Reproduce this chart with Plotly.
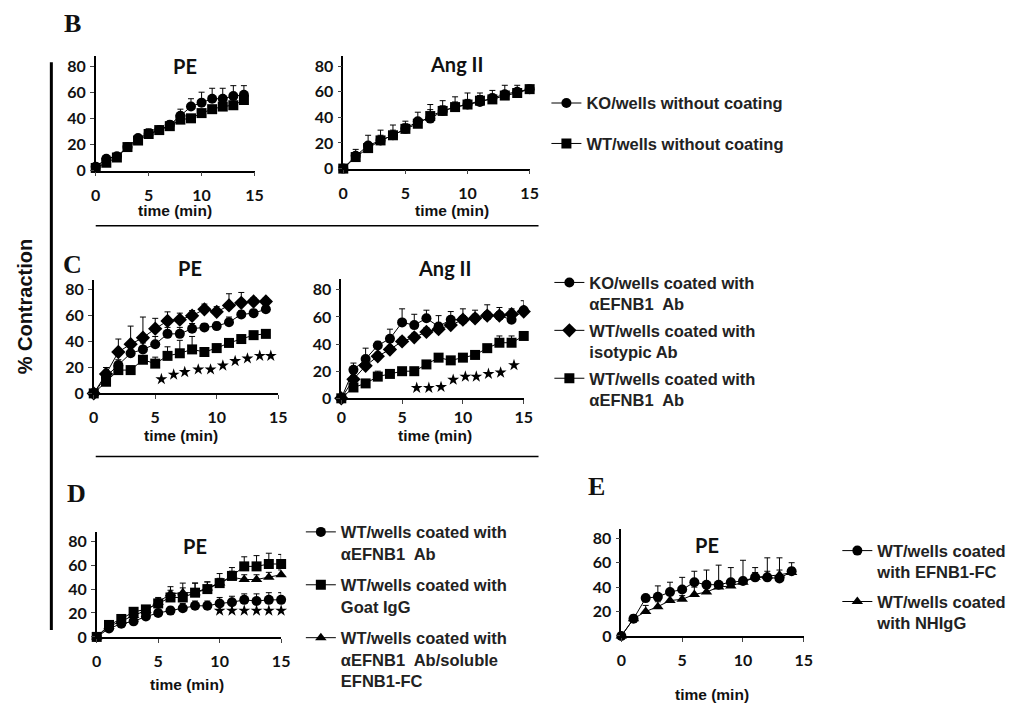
import plotly.graph_objects as go

# ---------------- data ----------------
t14 = list(range(15))
t15 = list(range(16))

B_PE_KO = [3, 9, 11, 18, 25, 28, 31, 35, 42, 49, 52, 55, 55, 57, 58]
B_PE_KO_err = [0, 1, 1, 1, 2, 4, 2, 3, 5, 6, 8, 8, 8, 8, 7]
B_PE_WT = [2, 6, 10, 18, 23, 28, 31, 34, 39, 40, 44, 47, 49, 50, 54]
B_PE_WT_err = [0, 1, 1, 1, 2, 2, 2, 2, 3, 2, 2, 2, 3, 3, 3]

B_ANG_KO = [0, 10, 18, 22, 26, 31, 37, 39, 45, 48, 50, 52, 55, 58, 60, 62]
B_ANG_KO_err = [0, 5, 8, 8, 8, 6, 7, 11, 8, 8, 9, 7, 6, 7, 5, 3]
B_ANG_WT = [0, 9, 16, 22, 26, 31, 35, 41, 45, 48, 50, 53, 54, 57, 59, 62]
B_ANG_WT_err = [0, 3, 4, 4, 4, 4, 4, 5, 4, 4, 4, 4, 4, 3, 3, 2]

C_PE_KO = [0, 13, 22, 31, 34, 38, 46, 46, 50, 51, 52, 55, 61, 62, 65]
C_PE_KO_err = [0, 3, 4, 5, 5, 6, 5, 5, 4, 3, 3, 4, 3, 3, 3]
C_PE_ISO = [0, 15, 32, 38, 43, 50, 56, 57, 60, 65, 63, 68, 70, 71, 71]
C_PE_ISO_err = [0, 5, 10, 14, 16, 8, 7, 5, 4, 4, 4, 9, 8, 3, 3]
C_PE_AB = [0, 9, 18, 18, 26, 23, 29, 31, 34, 32, 35, 39, 42, 45, 46]
C_PE_AB_err = [0, 2, 3, 3, 3, 5, 7, 10, 10, 3, 3, 3, 3, 2, 2]
C_PE_star_x = [5.5, 6.5, 7.4, 8.5, 9.5, 10.5, 11.5, 12.5, 13.5, 14.4]
C_PE_star_y = [11, 14.5, 16.5, 18.5, 18.5, 21.5, 25, 27, 29, 29]

C_ANG_KO = [0, 21, 29, 39, 44, 56, 54, 59, 53, 58, 58, 59, 61, 61, 58, 65]
C_ANG_KO_err = [0, 5, 8, 3, 7, 10, 8, 6, 8, 6, 8, 6, 8, 6, 8, 7]
C_ANG_ISO = [0, 14, 24, 31, 36, 42, 45, 49, 51, 54, 58, 59, 61, 61, 62, 64]
C_ANG_ISO_err = [0, 3, 4, 3, 3, 3, 3, 3, 4, 4, 3, 3, 3, 3, 3, 3]
C_ANG_AB = [0, 8, 11, 16, 18, 20, 20, 25, 30, 28, 30, 32, 37, 41, 41, 46]
C_ANG_AB_err = [0, 2, 2, 4, 2, 2, 2, 2, 2, 2, 2, 2, 2, 5, 5, 2]
C_ANG_star_x = [6.2, 7.2, 8.2, 9.2, 10.2, 11.1, 12.1, 13.1, 14.2, 15.3]
C_ANG_star_y = [7.7, 7.7, 8.4, 13.7, 16, 16, 18, 19, 24.5, 27]

D_AB = [0, 7, 11, 13, 17, 20, 22, 24, 26, 26, 28, 29, 31, 30, 31, 31]
D_AB_err = [0, 2, 2, 2, 3, 3, 3, 4, 4, 4, 5, 5, 5, 6, 6, 6]
D_IGG = [0, 10, 15, 21, 23, 28, 33, 33, 37, 40, 45, 51, 59, 59, 61, 61]
D_IGG_err = [0, 2, 2, 2, 3, 4, 6, 8, 8, 6, 8, 7, 8, 9, 9, 8]
D_SOL = [0, 9, 13, 18, 22, 29, 36, 37, 37, 41, 45, 50, 48, 48, 50, 52]
D_SOL_err = [0, 2, 2, 2, 3, 4, 6, 8, 8, 5, 4, 5, 4, 4, 4, 4]
D_star_x = [10, 11, 12, 13, 14, 15]
D_star_y = [22, 22, 22, 22, 22, 22]

E_FC = [0, 14, 31, 32, 36, 38, 44, 42, 42, 44, 45, 48, 48, 47, 53]
E_FC_err = [0, 3, 2, 9, 8, 10, 9, 12, 16, 12, 17, 8, 16, 17, 7]
E_NH = [0, 14, 20, 24, 29, 30, 34, 36, 40, 41, 44, 48, 49, 50, 52]
E_NH_err = [0, 3, 5, 4, 4, 3, 6, 6, 4, 4, 4, 4, 4, 4, 4]

y_ticks = [0, 20, 40, 60, 80]
x_ticks = [0, 5, 10, 15]

NB = "\u00a0"
L_B = ["KO/wells without coating", "WT/wells without coating"]
L_C = ["KO/wells coated with<br>αEFNB1" + NB + " Ab",
       "WT/wells coated with<br>isotypic Ab",
       "WT/wells coated with<br>αEFNB1" + NB + " Ab"]
L_D = ["WT/wells coated with<br>αEFNB1" + NB + " Ab",
       "WT/wells coated with<br>Goat IgG",
       "WT/wells coated with<br>αEFNB1" + NB + " Ab/soluble<br>EFNB1-FC"]
L_E = ["WT/wells coated<br>with EFNB1-FC", "WT/wells coated<br>with NHIgG"]

# ---------------- layout helpers ----------------
W, H = 1013, 709
YMAX = 88


def xdom(a, b):
    return [a / W, b / W]


def ydom(y0px, y80px):
    top = y0px - (y0px - y80px) * YMAX / 80
    return [1 - y0px / H, 1 - top / H]


panels = {
    # name: (x0px, x15px, y0px, y80px, x tick-label standoff)
    "1": (92, 253, 172, 66, 5),
    "2": (343, 532, 170, 66, 5),
    "3": (90, 277, 398, 293, 5),
    "4": (341, 526, 403, 293, 0),
    "5": (93, 280, 645, 548, 5),
    "6": (625, 810, 644, 545, 5),
}

fig = go.Figure()

MS = {"circle": 10, "square": 10, "diamond": 11, "triangle-up": 10}


def add(x, y, err, sym, ax, name=None, legend=None, rank=None):
    sfx = "" if ax == "1" else ax
    fig.add_trace(go.Scatter(
        x=x, y=y, mode="lines+markers",
        line=dict(color="black", width=1),
        marker=dict(symbol=sym, size=MS[sym], color="black"),
        error_y=dict(type="data", array=err, arrayminus=[0] * len(err),
                     symmetric=False, color="black", thickness=1, width=3),
        xaxis="x" + sfx, yaxis="y" + sfx,
        name=name if name else "",
        showlegend=name is not None,
        legend=legend if legend else "legend",
        legendgroup="g%s" % rank if rank else None,
        legendrank=rank if rank else 1000,
        cliponaxis=False,
    ))


def stars(x, y, ax):
    sfx = "" if ax == "1" else ax
    fig.add_trace(go.Scatter(
        x=x, y=y, mode="markers",
        marker=dict(symbol="star", size=9, color="black"),
        xaxis="x" + sfx, yaxis="y" + sfx, showlegend=False, cliponaxis=False,
    ))


# B
add(t14, B_PE_WT, B_PE_WT_err, "square", "1")
add(t14, B_PE_KO, B_PE_KO_err, "circle", "1")
add(t15, B_ANG_WT, B_ANG_WT_err, "square", "2", L_B[1], "legend", 2)
add(t15, B_ANG_KO, B_ANG_KO_err, "circle", "2", L_B[0], "legend", 1)
# C
add(t14, C_PE_AB, C_PE_AB_err, "square", "3")
add(t14, C_PE_KO, C_PE_KO_err, "circle", "3")
add(t14, C_PE_ISO, C_PE_ISO_err, "diamond", "3")
stars(C_PE_star_x, C_PE_star_y, "3")
add(t15, C_ANG_AB, C_ANG_AB_err, "square", "4", L_C[2], "legend2", 3)
add(t15, C_ANG_ISO, C_ANG_ISO_err, "diamond", "4", L_C[1], "legend2", 2)
add(t15, C_ANG_KO, C_ANG_KO_err, "circle", "4", L_C[0], "legend2", 1)
stars(C_ANG_star_x, C_ANG_star_y, "4")
# D
add(t15, D_AB, D_AB_err, "circle", "5", L_D[0], "legend3", 1)
add(t15, D_SOL, D_SOL_err, "triangle-up", "5", L_D[2], "legend3", 3)
add(t15, D_IGG, D_IGG_err, "square", "5", L_D[1], "legend3", 2)
stars(D_star_x, D_star_y, "5")
# E
add(t14, E_NH, E_NH_err, "triangle-up", "6", L_E[1], "legend4", 2)
add(t14, E_FC, E_FC_err, "circle", "6", L_E[0], "legend4", 1)

tickfont = dict(family="Lato", size=16, color="#111", weight="bold")
layout = dict(
    width=W, height=H, margin=dict(l=0, r=0, t=0, b=0),
    paper_bgcolor="white", plot_bgcolor="white", showlegend=True,
)
for k, (x0, x15, y0, y80, so) in panels.items():
    sfx = "" if k == "1" else k
    layout["xaxis" + sfx] = dict(
        domain=xdom(x0, x15), range=[0, 15], anchor="y" + sfx,
        tickvals=x_ticks, ticks="outside", ticklen=4, tickwidth=1.3,
        showline=True, linecolor="black", linewidth=1.5, ticklabelstandoff=so,
        showgrid=False, zeroline=False, tickfont=tickfont, fixedrange=True,
    )
    layout["yaxis" + sfx] = dict(
        domain=ydom(y0, y80), range=[0, YMAX], anchor="x" + sfx,
        tickvals=y_ticks, ticks="outside", ticklen=4, tickwidth=1.3,
        showline=True, linecolor="black", linewidth=1.5, ticklabelstandoff=1,
        showgrid=False, zeroline=False, tickfont=tickfont, fixedrange=True,
    )

legfont = dict(family="Liberation Sans", size=16.5, color="#222", weight="bold")


def leg(xpx, ypx, gap):
    return dict(x=xpx / W, y=1 - ypx / H, xanchor="left", yanchor="top",
                font=legfont, bgcolor="rgba(0,0,0,0)", tracegroupgap=gap,
                valign="top", traceorder="grouped", itemclick=False,
                itemdoubleclick=False)


layout["legend"] = leg(549, 86, 16)
layout["legend2"] = leg(552, 268, 2)
layout["legend3"] = leg(300, 521, 7)
layout["legend4"] = leg(844, 540, 5)

fig.update_layout(**layout)

# annotations
ann = []


def text(s, xpx, ypx, size, family="Lato", weight="bold", angle=0, xanchor="center"):
    ann.append(dict(text=s, x=xpx / W, y=1 - ypx / H, xref="paper", yref="paper",
                    showarrow=False, xanchor=xanchor, yanchor="middle", textangle=angle,
                    font=dict(family=family, size=size, color="#111", weight=weight)))


for s, xp, yp in [("PE", 183, 66), ("Ang II", 458, 64), ("PE", 188, 271),
                  ("Ang II", 446, 271), ("PE", 193, 553), ("PE", 712, 552)]:
    text(s, xp, yp, 20)
for xp, yp in [(172, 212), (453, 212), (178, 441), (436, 441), (185, 693), (717, 703)]:
    text("time (min)", xp, yp, 15.5, family="Liberation Sans")
for s, xp, yp in [("B", 68, 23), ("C", 68, 267), ("D", 72, 500), ("E", 600, 492)]:
    text(s, xp, yp, 26, family="Liberation Serif")
text("% Contraction", 20, 310, 20, family="Liberation Sans", angle=-90)

fig.update_layout(annotations=ann, shapes=[
    dict(type="line", xref="paper", yref="paper", x0=47 / W, x1=47 / W,
         y0=1 - 62 / H, y1=1 - 638 / H, line=dict(color="black", width=3)),
    dict(type="line", xref="paper", yref="paper", x0=92 / W, x1=541 / W,
         y0=1 - 228 / H, y1=1 - 228 / H, line=dict(color="black", width=1.5)),
    dict(type="line", xref="paper", yref="paper", x0=92 / W, x1=541 / W,
         y0=1 - 462 / H, y1=1 - 462 / H, line=dict(color="black", width=1.5)),
])

fig.write_html("out.html")
